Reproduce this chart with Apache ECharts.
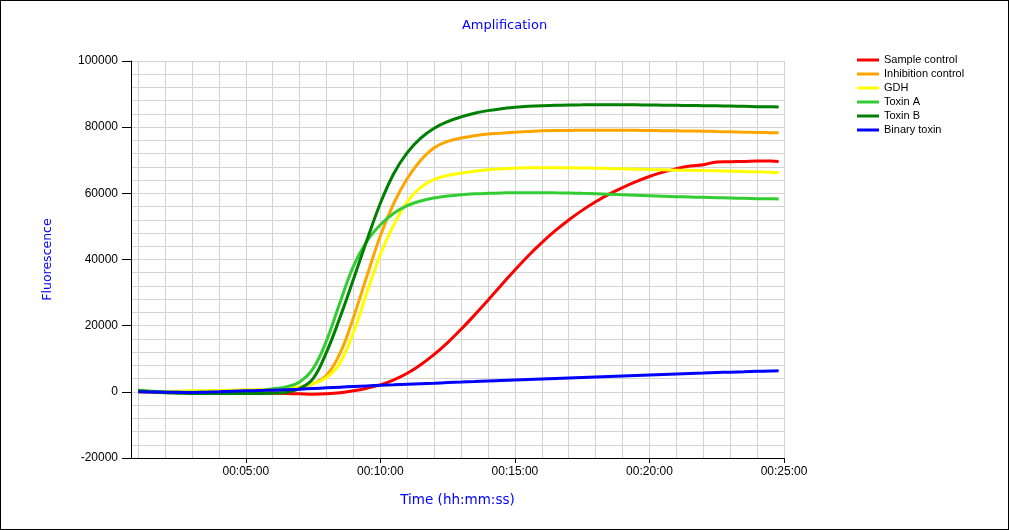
<!DOCTYPE html>
<html>
<head>
<meta charset="utf-8">
<script src="https://cdn.jsdelivr.net/npm/echarts@6/dist/echarts.min.js"></script>
<style>
    html, body {
        margin: 0;
        padding: 0;
        background: #fff;
    }
    #chart {
        width: 1009px;
        height: 530px;
        box-sizing: border-box;
        border: 1px solid #000;
    }
</style>
</head>
<body>
<div id="chart"></div>
<script>
// time of each reading, in minutes
const times = [1, 1.5, 2, 2.5, 3, 3.5, 4, 4.5, 5, 5.5, 6, 6.5, 7, 7.5, 8, 8.5, 9, 9.5, 10, 10.5, 11, 11.5, 12, 12.5, 13, 13.5, 14, 14.5, 15, 15.5, 16, 16.5, 17, 17.5, 18, 18.5, 19, 19.5, 20, 20.5, 21, 21.5, 22, 22.5, 23, 23.5, 24, 24.5, 24.8];

const sampleControl = [0, -100, -200, -250, -300, -300, -300, -300, -300, -300, -400, -500, -600, -700, -600, -300, 300, 1100, 2100, 3600, 5600, 8200, 11300, 14900, 18900, 23200, 27700, 32300, 36850, 41150, 45100, 48700, 51950, 54850, 57450, 59750, 61750, 63550, 65100, 66400, 67450, 68250, 68650, 69500, 69550, 69650, 69800, 69750, 69650];
const inhibitionControl = [0, 0, 0, 50, 100, 150, 200, 250, 300, 400, 500, 700, 1200, 2500, 5000, 11600, 22500, 35000, 47200, 57000, 64500, 70000, 73800, 75700, 76700, 77400, 77900, 78200, 78500, 78700, 78900, 79000, 79000, 79100, 79100, 79100, 79100, 79050, 79000, 78950, 78900, 78850, 78800, 78700, 78600, 78500, 78400, 78350, 78300];
const gdh = [0, 50, 100, 200, 300, 350, 400, 500, 600, 700, 800, 1000, 1500, 2500, 4300, 8700, 18000, 30000, 41500, 50500, 57500, 61800, 64200, 65400, 66100, 66700, 67100, 67400, 67600, 67700, 67700, 67700, 67700, 67650, 67600, 67500, 67400, 67300, 67200, 67100, 67000, 66950, 66900, 66800, 66700, 66600, 66500, 66400, 66300];
const toxinA = [500, 200, 0, -100, -100, -100, -100, -50, 0, 200, 900, 1500, 3000, 7000, 15500, 27000, 38000, 45500, 50500, 54000, 56300, 57700, 58600, 59200, 59600, 59850, 60000, 60100, 60200, 60200, 60200, 60150, 60100, 60000, 59900, 59750, 59600, 59450, 59300, 59150, 59000, 58900, 58800, 58700, 58600, 58500, 58400, 58350, 58300];
const toxinB = [300, 0, -300, -400, -500, -500, -500, -500, -500, -500, -400, -200, 1000, 4000, 12000, 22500, 34000, 45800, 57000, 66000, 72300, 76700, 79700, 81700, 83100, 84200, 85000, 85600, 86000, 86300, 86500, 86600, 86700, 86750, 86800, 86800, 86800, 86750, 86700, 86650, 86600, 86550, 86500, 86450, 86400, 86300, 86200, 86150, 86100];
const binaryToxin = [0, -50, -100, -150, -200, -100, 0, 150, 300, 400, 500, 650, 800, 1000, 1200, 1400, 1600, 1800, 2000, 2150, 2300, 2450, 2600, 2800, 2950, 3120, 3300, 3450, 3600, 3750, 3900, 4050, 4200, 4350, 4500, 4650, 4800, 4950, 5100, 5250, 5400, 5550, 5700, 5850, 5950, 6050, 6200, 6300, 6350];

// axis ticks, in seconds
const xLabelTicks = [300, 600, 900, 1200, 1500];
const xGridTicks = [60, 120, 180, 240, 300, 360, 420, 480, 540, 600, 660, 720, 780, 840, 900, 960, 1020, 1080, 1140, 1200, 1260, 1320, 1380, 1440, 1500];

const chart = echarts.init(document.getElementById('chart'));

function pairs(values) {
    return values.map((v, i) => [times[i] * 60, v]);
}

function hms(sec) {
    let h = Math.floor(sec / 3600);
    let m = Math.floor((sec % 3600) / 60);
    let s = Math.round(sec % 60);
    let p = (n) => (n < 10 ? '0' : '') + n;
    return p(h) + ':' + p(m) + ':' + p(s);
}

let seriesList = [
    { name: 'Sample control', color: '#ff0000', data: sampleControl },
    { name: 'Inhibition control', color: '#ffa500', data: inhibitionControl },
    { name: 'GDH', color: '#ffff00', data: gdh },
    { name: 'Toxin A', color: '#32cd32', data: toxinA },
    { name: 'Toxin B', color: '#008000', data: toxinB },
    { name: 'Binary toxin', color: '#0000ff', data: binaryToxin }
];

let series = seriesList.map((item) => {
    return {
        name: item.name,
        type: 'line',
        smooth: 0.4,
        showSymbol: false,
        xAxisIndex: 0,
        itemStyle: { color: item.color },
        lineStyle: { color: item.color, width: 3 },
        data: pairs(item.data)
    };
});

let option = {
    animation: false,
    textStyle: {
        fontFamily: 'Liberation Sans'
    },
    title: {
        text: 'Amplification',
        left: 'center',
        top: 18,
        padding: 0,
        textStyle: {
            color: '#0000ff',
            fontSize: 13,
            fontWeight: 'normal',
            fontFamily: 'DejaVu Sans'
        }
    },
    legend: {
        orient: 'vertical',
        left: 856,
        top: 52,
        icon: 'rect',
        itemWidth: 22,
        itemHeight: 3,
        itemGap: 0,
        padding: 0,
        textStyle: {
            color: '#000',
            fontSize: 11,
            lineHeight: 14,
            padding: [0, 0, 0, 0],
            fontFamily: 'Liberation Sans'
        },
        data: seriesList.map((item) => item.name)
    },
    grid: {
        left: 130,
        right: 224,
        top: 60,
        bottom: 71
    },
    xAxis: [
        {
            type: 'value',
            min: 44,
            max: 1500,
            name: 'Time (hh:mm:ss)',
            nameLocation: 'middle',
            nameGap: 35,
            nameTextStyle: {
                color: '#0000ff',
                fontSize: 13.5,
                fontFamily: 'DejaVu Sans'
            },
            axisLine: {
                onZero: false,
                lineStyle: { color: '#000', width: 1 }
            },
            axisTick: {
                length: 5,
                lineStyle: { color: '#000' },
                customValues: xLabelTicks
            },
            axisLabel: {
                color: '#000',
                fontSize: 12,
                margin: 8,
                customValues: xLabelTicks,
                formatter: function (val) {
                    return hms(val);
                }
            },
            splitLine: { show: false }
        },
        {
            type: 'value',
            min: 44,
            max: 1500,
            position: 'bottom',
            axisLine: { show: false },
            axisLabel: { show: false },
            axisTick: { show: false, customValues: xGridTicks },
            splitLine: {
                show: true,
                lineStyle: { color: '#d3d3d3', width: 1 }
            }
        }
    ],
    yAxis: {
        type: 'value',
        min: -20000,
        max: 100000,
        interval: 20000,
        name: 'Fluorescence',
        nameLocation: 'middle',
        nameGap: 77,
        nameTextStyle: {
            color: '#0000ff',
            fontSize: 12.5,
            fontFamily: 'DejaVu Sans'
        },
        axisLine: {
            show: true,
            lineStyle: { color: '#000', width: 1 }
        },
        axisTick: {
            show: true,
            length: 9,
            lineStyle: { color: '#000' }
        },
        axisLabel: {
            color: '#000',
            fontSize: 12,
            margin: 13,
            formatter: function (val) {
                return String(val);
            }
        },
        splitLine: {
            lineStyle: { color: '#d3d3d3', width: 1 }
        },
        minorTick: {
            show: false,
            splitNumber: 5
        },
        minorSplitLine: {
            show: true,
            lineStyle: { color: '#d3d3d3', width: 1 }
        }
    },
    series: series
};

chart.setOption(option);
window.addEventListener('resize', () => {
    chart.resize();
});
</script>
</body>
</html>
